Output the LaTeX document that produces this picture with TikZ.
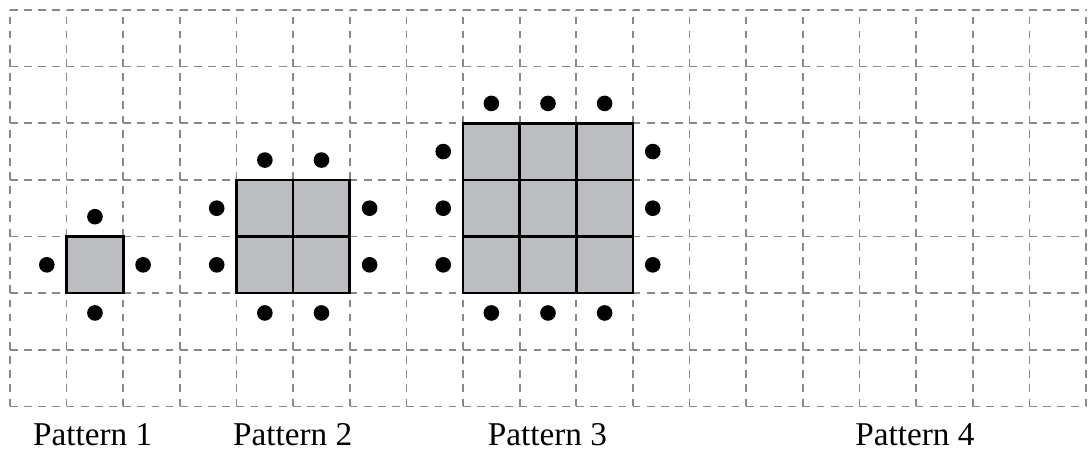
\documentclass[tikz,border=0pt]{standalone}
\usepackage{fontspec}
\setmainfont{Liberation Serif}
\definecolor{gridgray}{HTML}{888888}
\definecolor{tilegray}{HTML}{BCBDC0}
\tikzset{
  gridline/.style={draw=gridgray, line width=0.85pt, dash pattern=on 3.9pt off 3.21pt},
  tile/.style={fill=tilegray, draw=black, line width=1.3pt},
  dot/.style={fill=black},
  plabel/.style={anchor=base, inner sep=0pt, font=\fontsize{16.7}{19}\selectfont},
}
\begin{document}
\begin{tikzpicture}[x=1cm,y=1cm]
\useasboundingbox (-0.1766,-0.8122) rectangle (19.0356,7.1766);
% grid
\foreach \x in {0,...,19} \draw[gridline] (\x,0) -- (\x,7);
\foreach \y in {0,...,7} \draw[gridline] (0,\y) -- (19,\y);
% patterns
\foreach \a/\n in {1/1,4/2,8/3} {
  \pgfmathtruncatemacro{\m}{\n-1}
  \foreach \i in {0,...,\m} {
    \foreach \j in {0,...,\m} {
      \draw[tile] (\a+\i,2+\j) rectangle ++(1,1);
    }
    \fill[dot] (\a+\i+0.5,2+\n+0.35) circle (0.138);
    \fill[dot] (\a+\i+0.5,2-0.35) circle (0.138);
    \fill[dot] (\a-0.35,2+\i+0.5) circle (0.138);
    \fill[dot] (\a+\n+0.35,2+\i+0.5) circle (0.138);
  }
}
% labels
\node[plabel] (p1) at (1.46,-0.689) {Pattern 1};
\node[plabel] (p2) at (4.99,-0.689) {Pattern 2};
\node[plabel] (p3) at (9.49,-0.689) {Pattern 3};
\node[plabel] (p4) at (15.98,-0.689) {Pattern 4};
\end{tikzpicture}
\end{document}
